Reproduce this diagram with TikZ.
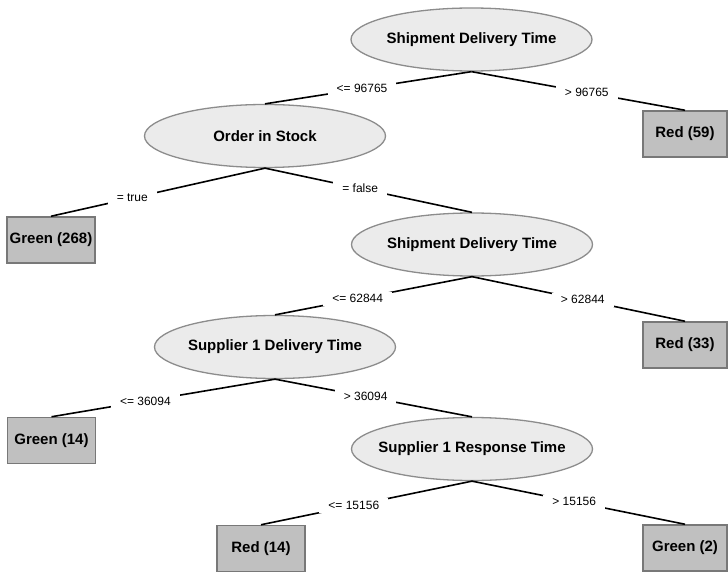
\documentclass[tikz,border=0pt]{standalone}
\usepackage{fontspec}
\setmainfont{Liberation Sans}
\usetikzlibrary{shapes.geometric}
\definecolor{splitfill}{RGB}{235,235,235}
\definecolor{splitline}{RGB}{140,140,140}
\definecolor{leaffill}{RGB}{192,192,192}
\definecolor{leafline}{RGB}{120,120,120}
% fixed-width text box, so every split ellipse keeps the same size
\newcommand{\splittext}[1]{\makebox[150pt]{#1}}
\begin{document}
\begin{tikzpicture}[x=1pt,y=-1pt,
  split/.style={ellipse,draw=splitline,fill=splitfill,line width=1.3pt,
    minimum width=241pt,minimum height=63pt,inner sep=0pt,
    font=\fontsize{15}{18}\selectfont\bfseries},
  leaf/.style={rectangle,draw=leafline,fill=leaffill,line width=1.5pt,
    minimum width=88pt,minimum height=46pt,inner sep=0pt,
    font=\fontsize{15}{18}\selectfont\bfseries},
  edge/.style={line width=1.6pt,black},
  lbl/.style={fill=white,inner xsep=9pt,inner ysep=3pt,
    font=\fontsize{12}{14}\selectfont}]
\useasboundingbox[fill=white] (0,0) rectangle (728,572);

% decision nodes
\node[split] (s1) at (471.5,39.5) {\splittext{Shipment Delivery Time}};
\node[split] (s2) at (265,136) {\splittext{Order in Stock}};
\node[split] (s3) at (472,244.5) {\splittext{Shipment Delivery Time}};
\node[split] (s4) at (275,347) {\splittext{Supplier 1 Delivery Time}};
\node[split] (s5) at (472,449) {\splittext{Supplier 1 Response Time}};

% leaves
\node[leaf,minimum width=84pt] (r59) at (685,134) {Red (59)};
\node[leaf] (g268) at (51,240) {Green (268)};
\node[leaf,minimum width=84pt] (r33) at (685,345) {Red (33)};
\node[leaf] (g14) at (51.5,440.5) {Green (14)};
\node[leaf] (r14) at (261,548.5) {Red (14)};
\node[leaf,minimum width=84pt] (g2) at (685,548) {Green (2)};

% branches with their split conditions
\draw[edge] (s1.south) -- node[lbl,pos=.53] {<= 96765} (s2.north);
\draw[edge] (s1.south) -- node[lbl,pos=.54] {> 96765} (r59.north);
\draw[edge] (s2.south) -- node[lbl,pos=.62] {= true} (g268.north);
\draw[edge] (s2.south) -- node[lbl,pos=.46] {= false} (s3.north);
\draw[edge] (s3.south) -- node[lbl,pos=.58] {<= 62844} (s4.north);
\draw[edge] (s3.south) -- node[lbl,pos=.52] {> 62844} (r33.north);
\draw[edge] (s4.south) -- node[lbl,pos=.58] {<= 36094} (g14.north);
\draw[edge] (s4.south) -- node[lbl,pos=.46] {> 36094} (s5.north);
\draw[edge] (s5.south) -- node[lbl,pos=.56] {<= 15156} (r14.north);
\draw[edge] (s5.south) -- node[lbl,pos=.48] {> 15156} (g2.north);
\end{tikzpicture}
\end{document}
